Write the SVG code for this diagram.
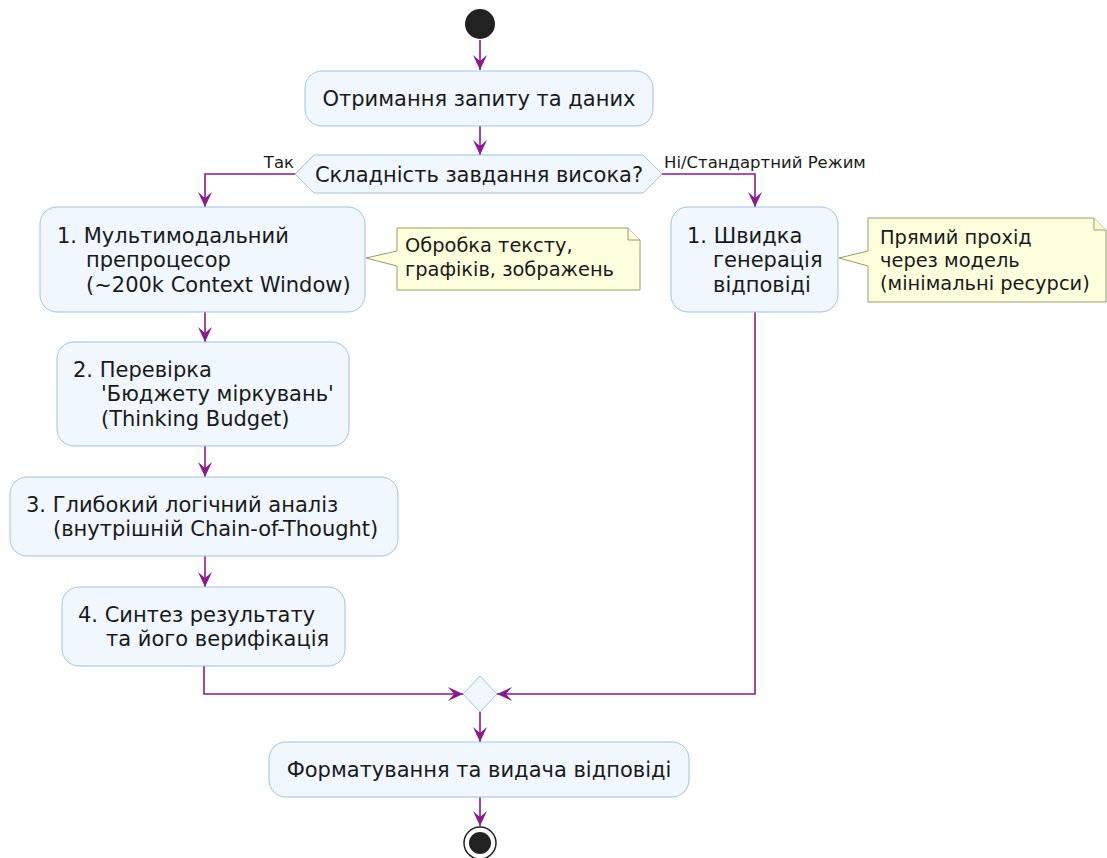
<svg xmlns="http://www.w3.org/2000/svg" width="1107" height="858" viewBox="0 0 1107 858">
<style>
.box{fill:#F0F7FE;stroke:#9DC3E2;stroke-width:1}
.note{fill:#FEFFDD;stroke:#9A9A6A;stroke-width:1}
.t{font-family:"DejaVu Sans",sans-serif;font-size:21px;fill:#1a1a1a}
.n{font-family:"DejaVu Sans",sans-serif;font-size:19.4px;fill:#1a1a1a}
.lbl{font-family:"DejaVu Sans",sans-serif;font-size:16.5px;fill:#1a1a1a}
.ln{fill:none;stroke:#8B1A8B;stroke-width:1.6}
</style>
<defs>
<marker id="ah" viewBox="0 0 16 16" refX="15" refY="8" markerWidth="16" markerHeight="16" markerUnits="userSpaceOnUse" orient="auto">
<path d="M0,1 L15,8 L0,15 L6,8 Z" fill="#8B1A8B"/>
</marker>
</defs>
<g id="connectors">
<path class="ln" d="M480,40 V70" marker-end="url(#ah)"/>
<path class="ln" d="M480,126 V155" marker-end="url(#ah)"/>
<path class="ln" d="M295,174 H205 V207" marker-end="url(#ah)"/>
<path class="ln" d="M662,174 H755 V207" marker-end="url(#ah)"/>
<path class="ln" d="M205,312 V342" marker-end="url(#ah)"/>
<path class="ln" d="M205,446 V477" marker-end="url(#ah)"/>
<path class="ln" d="M205,556 V587" marker-end="url(#ah)"/>
<path class="ln" d="M204,666 V694 H463" marker-end="url(#ah)"/>
<path class="ln" d="M755,312 V694 H497" marker-end="url(#ah)"/>
<path class="ln" d="M480,712 V742" marker-end="url(#ah)"/>
<path class="ln" d="M480,797 V826" marker-end="url(#ah)"/>
<text class="lbl" x="294" y="168" text-anchor="end">Так</text>
<text class="lbl" x="664" y="168">Ні/Стандартний Режим</text>
</g>
<g id="start"><circle cx="480" cy="24" r="15" fill="#222"/></g>
<g id="receive">
<rect class="box" x="305" y="71" width="348" height="55" rx="17"/>
<text class="t" x="479" y="106" text-anchor="middle">Отримання запиту та даних</text>
</g>
<g id="decision">
<polygon class="box" points="295,174 314,155 643,155 662,174 643,193 314,193"/>
<text class="t" x="479" y="182" text-anchor="middle">Складність завдання висока?</text>
</g>
<g id="l1">
<rect class="box" x="40" y="207" width="325" height="105" rx="17"/>
<text class="t" x="57" y="243">1. Мультимодальний</text>
<text class="t" x="86" y="267">препроцесор</text>
<text class="t" x="86" y="292">(~200k Context Window)</text>
</g>
<g id="note1">
<path class="note" d="M397,228 H628 L640,240 V290 H397 V266 L366,258 L397,251 Z"/>
<path class="note" d="M628,228 V240 H640"/>
<text class="n" x="405" y="252">Обробка тексту,</text>
<text class="n" x="405" y="276">графіків, зображень</text>
</g>
<g id="r1">
<rect class="box" x="671" y="207" width="167" height="105" rx="17"/>
<text class="t" x="687" y="243">1. Швидка</text>
<text class="t" x="713" y="267">генерація</text>
<text class="t" x="713" y="292">відповіді</text>
</g>
<g id="note2">
<path class="note" d="M868,218 H1094 L1106,230 V302 H868 V266 L839,258 L868,251 Z"/>
<path class="note" d="M1094,218 V230 H1106"/>
<text class="n" x="880" y="244">Прямий прохід</text>
<text class="n" x="880" y="267">через модель</text>
<text class="n" x="880" y="290">(мінімальні ресурси)</text>
</g>
<g id="l2">
<rect class="box" x="57" y="342" width="292" height="104" rx="17"/>
<text class="t" x="73" y="377">2. Перевірка</text>
<text class="t" x="101" y="401">'Бюджету міркувань'</text>
<text class="t" x="101" y="426">(Thinking Budget)</text>
</g>
<g id="l3">
<rect class="box" x="10" y="477" width="388" height="79" rx="17"/>
<text class="t" x="26" y="512">3. Глибокий логічний аналіз</text>
<text class="t" x="53" y="536">(внутрішній Chain-of-Thought)</text>
</g>
<g id="l4">
<rect class="box" x="62" y="587" width="283" height="79" rx="17"/>
<text class="t" x="78" y="622">4. Синтез результату</text>
<text class="t" x="106" y="646">та його верифікація</text>
</g>
<g id="merge">
<polygon class="box" points="480,676 497,694 480,712 463,694"/>
</g>
<g id="final">
<rect class="box" x="269" y="742" width="420" height="55" rx="17"/>
<text class="t" x="479" y="777" text-anchor="middle">Форматування та видача відповіді</text>
</g>
<g id="end">
<circle cx="480" cy="843" r="16" fill="#fff" stroke="#222" stroke-width="1.5"/>
<circle cx="480" cy="843" r="11" fill="#222"/>
</g>
</svg>
